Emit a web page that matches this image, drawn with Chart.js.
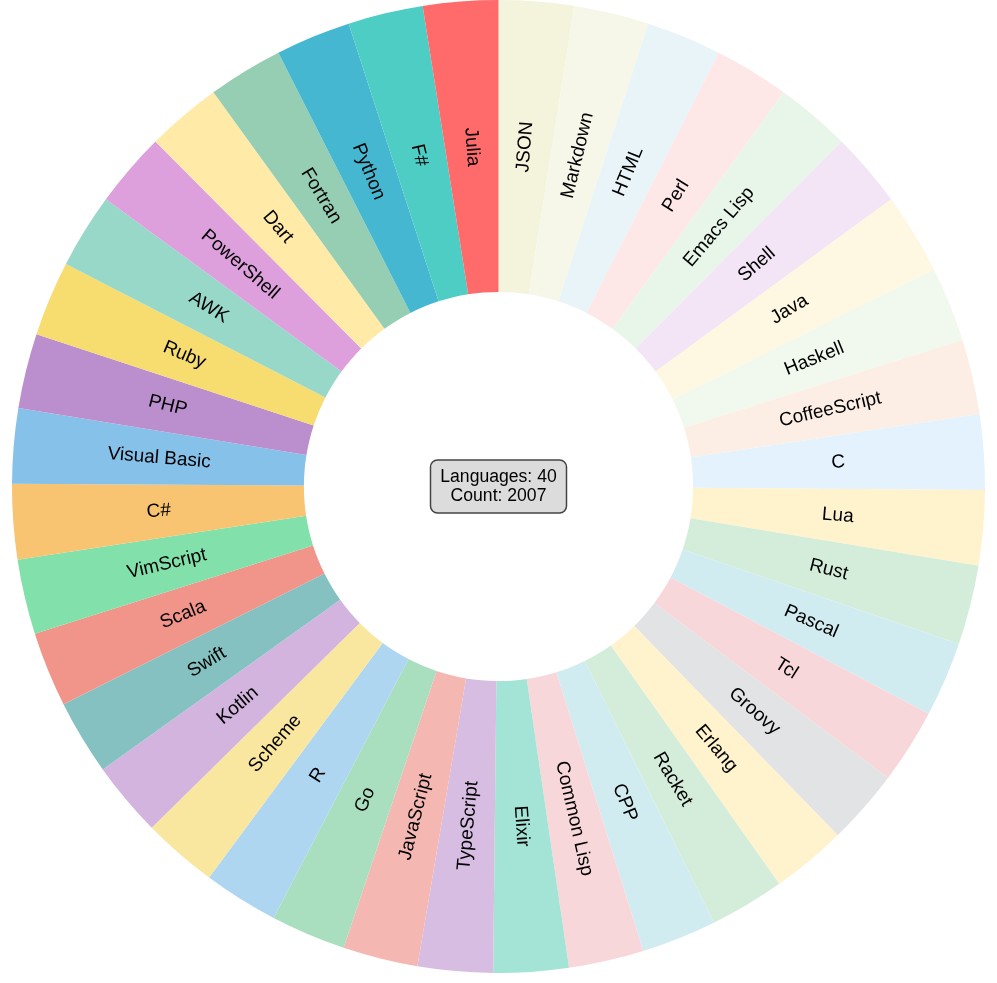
<!DOCTYPE html>
<html>
<head>
<meta charset="utf-8">
<script src="https://cdn.jsdelivr.net/npm/chart.js@4.4.1/dist/chart.umd.min.js"></script>
<style>
  html, body { margin: 0; padding: 0; background: #ffffff; }
  #wrap { position: relative; width: 997px; height: 973px; }
</style>
</head>
<body>
<div id="wrap"><canvas id="c"></canvas></div>
<script>
const languages = [
  "JSON", "Markdown", "HTML", "Perl", "Emacs Lisp", "Shell", "Java", "Haskell",
  "CoffeeScript", "C", "Lua", "Rust", "Pascal", "Tcl", "Groovy", "Erlang",
  "Racket", "CPP", "Common Lisp", "Elixir", "TypeScript", "JavaScript", "Go", "R",
  "Scheme", "Kotlin", "Swift", "Scala", "VimScript", "C#", "Visual Basic", "PHP",
  "Ruby", "AWK", "PowerShell", "Dart", "Fortran", "Python", "F#", "Julia"
];
const counts = [
  50, 50, 50, 50, 50, 50, 54, 50,
  50, 50, 50, 53, 50, 50, 50, 50,
  50, 50, 50, 50, 50, 50, 50, 50,
  50, 50, 50, 50, 50, 50, 50, 50,
  50, 50, 50, 50, 50, 50, 50, 50
];
const colors = [
  "#F4F4DC", "#F6F7E8", "#E8F4F8", "#FDE7E7", "#E8F5E9", "#F3E5F5", "#FEF7E1", "#F1F8EE",
  "#FDEEE5", "#E3F2FD", "#FFF3CD", "#D4EDDA", "#D1ECF1", "#F8D7DA", "#E2E3E5", "#FFF3CD",
  "#D4EDDA", "#D1ECF1", "#F8D7DA", "#A3E4D7", "#D7BDE2", "#F5B7B1", "#A9DFBF", "#AED6F1",
  "#F9E79F", "#D2B4DE", "#85C1C1", "#F1948A", "#82E0AA", "#F8C471", "#85C1E9", "#BB8FCE",
  "#F7DC6F", "#98D8C8", "#DDA0DD", "#FFEAA7", "#96CEB4", "#45B7D1", "#4ECDC4", "#FF6B6B"
];
const centerLines = ["Languages: " + languages.length, "Count: " + counts.reduce((a, b) => a + b, 0)];

const sliceLabels = {
  id: "sliceLabels",
  afterDatasetsDraw(chart) {
    const ctx = chart.ctx;
    const meta = chart.getDatasetMeta(0);
    ctx.save();
    ctx.font = "19px 'Liberation Sans', Arial, sans-serif";
    ctx.fillStyle = "#000000";
    ctx.textAlign = "center";
    ctx.textBaseline = "middle";
    meta.data.forEach((arc, i) => {
      const p = arc.getProps(["x", "y", "startAngle", "endAngle", "innerRadius", "outerRadius"], true);
      const mid = (p.startAngle + p.endAngle) / 2;
      const r = (p.innerRadius + p.outerRadius) / 2;
      let a = mid;
      while (a < -Math.PI / 2) a += Math.PI * 2;
      while (a >= Math.PI * 1.5) a -= Math.PI * 2;
      const rot = a > Math.PI / 2 ? a - Math.PI : a;
      ctx.save();
      ctx.translate(p.x + Math.cos(mid) * r, p.y + Math.sin(mid) * r);
      ctx.rotate(rot);
      ctx.fillText(chart.data.labels[i], 0, 0);
      ctx.restore();
    });
    ctx.restore();
  }
};

const centerBox = {
  id: "centerBox",
  afterDraw(chart) {
    const ctx = chart.ctx;
    const arc = chart.getDatasetMeta(0).data[0];
    const cx = arc.x, cy = arc.y;
    const w = 136, h = 53;
    ctx.save();
    ctx.beginPath();
    ctx.roundRect(cx - w / 2, cy - h / 2, w, h, 7);
    ctx.fillStyle = "#DCDCDC";
    ctx.fill();
    ctx.lineWidth = 1.5;
    ctx.strokeStyle = "#444444";
    ctx.stroke();
    ctx.font = "17.6px 'Liberation Sans', Arial, sans-serif";
    ctx.fillStyle = "#000000";
    ctx.textAlign = "center";
    ctx.textBaseline = "middle";
    ctx.fillText(centerLines[0], cx, cy - 9.5);
    ctx.fillText(centerLines[1], cx, cy + 9.5);
    ctx.restore();
  }
};

new Chart(document.getElementById("c"), {
  type: "doughnut",
  data: {
    labels: languages,
    datasets: [{
      data: counts,
      backgroundColor: colors,
      borderWidth: 0,
      hoverOffset: 0
    }]
  },
  options: {
    responsive: true,
    maintainAspectRatio: false,
    animation: false,
    cutout: "40%",
    layout: { padding: 0 },
    plugins: {
      legend: { display: false },
      tooltip: { enabled: false },
      title: { display: false }
    }
  },
  plugins: [sliceLabels, centerBox]
});
</script>
</body>
</html>
